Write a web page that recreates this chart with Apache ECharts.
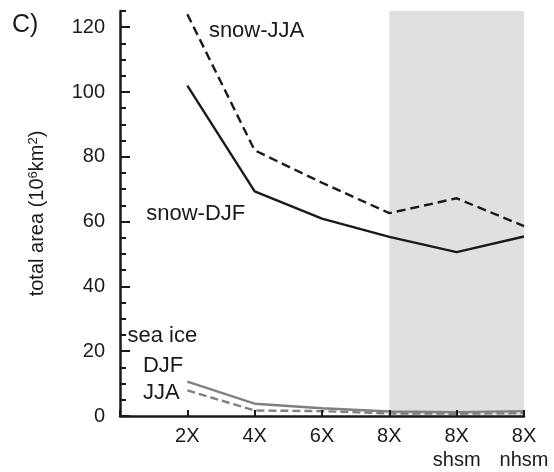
<!DOCTYPE html>
<html>
<head>
<meta charset="utf-8">
<script src="https://cdn.jsdelivr.net/npm/echarts@6/dist/echarts.min.js"></script>
<style>
  html, body { margin: 0; padding: 0; background: #ffffff; }
  #chart { width: 554px; height: 472px; }
</style>
</head>
<body>
<div id="chart"></div>
<script>
// Experiment names along the x axis (position 0 is left empty)
const runLabels = ['', '2X', '4X', '6X', '8X', '8X\nshsm', '8X\nnhsm'];
const runPositions = [1, 2, 3, 4, 5, 6];

// Total area, 10^6 km^2
const snowJJA = [124, 82, 72, 62.6, 67.2, 58.6];
const snowDJF = [102, 69.3, 60.9, 55.3, 50.6, 55.4];
const seaIceDJF = [10.6, 3.8, 2.4, 1.4, 1.2, 1.5];
const seaIceJJA = [7.9, 1.7, 1.5, 0.8, 0.7, 0.9];

// Labelled y ticks
const yTickLabels = [0, 20, 40, 60, 80, 100, 120];

// Shaded span covering the hemispheric 8X runs
const shadedFrom = 4;
const shadedTo = 6;
const axisTop = 125;

// In-plot annotations: text and anchor (left edge, vertical centre) in data units
const annotationText = ['snow-JJA', 'snow-DJF', 'sea ice', 'DJF', 'JJA'];
const annotationX = [1.32, 0.39, 0.11, 0.34, 0.34];
const annotationY = [118.8, 62.3, 24.6, 15.4, 7.0];

const FONT = 'Liberation Sans, Arial, Helvetica, sans-serif';
const GREY = '#808080';

const pairs = vals => runPositions.map((x, i) => [x, vals[i]]);

const chart = echarts.init(document.getElementById('chart'), null, { renderer: 'canvas' });

chart.setOption({
  animation: false,
  backgroundColor: '#ffffff',
  title: {
    text: 'C)',
    left: 7,
    top: 8,
    textStyle: { fontFamily: FONT, fontSize: 25, fontWeight: 'normal', color: '#1a1a1a' }
  },
  grid: { left: 120, right: 30, top: 11, bottom: 55, containLabel: false },
  xAxis: {
    type: 'value',
    min: 0,
    max: 6,
    interval: 1,
    z: 5,
    splitLine: { show: false },
    axisLine: { show: true, lineStyle: { color: '#1a1a1a', width: 2.5 } },
    axisTick: { show: true, inside: true, length: 6, lineStyle: { color: '#1a1a1a', width: 2 } },
    axisLabel: {
      fontFamily: FONT,
      fontSize: 20,
      color: '#1a1a1a',
      lineHeight: 24,
      margin: 8,
      showMinLabel: true,
      formatter: v => runLabels[Math.round(v)] || ''
    }
  },
  yAxis: [
    {
      // minor ticks every 5
      type: 'value',
      min: 0,
      max: axisTop,
      interval: 5,
      position: 'left',
      z: 5,
      splitLine: { show: false },
      axisLine: { show: true, lineStyle: { color: '#1a1a1a', width: 2.5 } },
      axisTick: { show: true, inside: true, length: 6, lineStyle: { color: '#1a1a1a', width: 2 } },
      axisLabel: { show: false },
      name: 'total area (10{sup|6}km{sup|2})',
      nameLocation: 'middle',
      nameGap: 72,
      nameRotate: 90,
      nameTextStyle: {
        fontFamily: FONT,
        fontSize: 20,
        color: '#1a1a1a',
        rich: {
          sup: { fontFamily: FONT, fontSize: 13, color: '#1a1a1a', verticalAlign: 'top', padding: [0, 0, 8, 0] }
        }
      }
    },
    {
      // labelled ticks every 20
      type: 'value',
      min: 0,
      max: axisTop,
      interval: 20,
      position: 'left',
      offset: 0,
      z: 5,
      splitLine: { show: false },
      axisLine: { show: false },
      axisTick: { show: true, inside: true, length: 10, lineStyle: { color: '#1a1a1a', width: 2 } },
      axisLabel: {
        fontFamily: FONT,
        fontSize: 20,
        color: '#1a1a1a',
        margin: 15,
        showMaxLabel: false,
        formatter: v => (yTickLabels.includes(v) ? String(v) : '')
      }
    }
  ],
  series: [
    {
      name: 'snow-JJA',
      type: 'line',
      data: pairs(snowJJA),
      symbol: 'none',
      clip: false,
      lineStyle: { color: '#1a1a1a', width: 2.4, type: [9, 5] },
      markArea: {
        silent: true,
        itemStyle: { color: '#dfe0e2' },
        data: [[{ xAxis: shadedFrom, yAxis: 0 }, { xAxis: shadedTo, yAxis: axisTop }]]
      },
      markPoint: {
        symbol: 'circle',
        symbolSize: 0,
        silent: true,
        label: {
          show: true,
          position: 'right',
          distance: 0,
          fontFamily: FONT,
          fontSize: 22,
          color: '#1a1a1a',
          formatter: p => p.name
        },
        data: annotationText.map((t, i) => ({ name: t, coord: [annotationX[i], annotationY[i]] }))
      }
    },
    {
      name: 'snow-DJF',
      type: 'line',
      data: pairs(snowDJF),
      symbol: 'none',
      lineStyle: { color: '#1a1a1a', width: 2.4 }
    },
    {
      name: 'sea ice DJF',
      type: 'line',
      data: pairs(seaIceDJF),
      symbol: 'none',
      lineStyle: { color: GREY, width: 2.4 }
    },
    {
      name: 'sea ice JJA',
      type: 'line',
      data: pairs(seaIceJJA),
      symbol: 'none',
      lineStyle: { color: GREY, width: 2.4, type: [8, 4] }
    }
  ]
});
</script>
</body>
</html>
